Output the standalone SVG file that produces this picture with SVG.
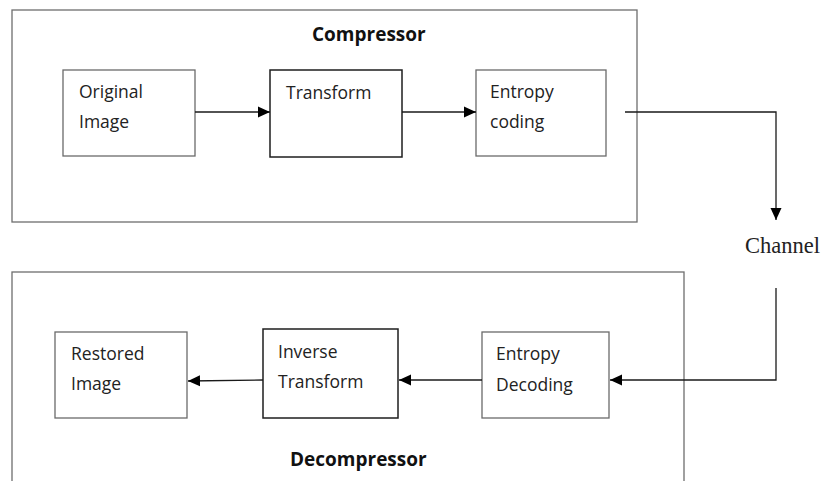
<svg xmlns="http://www.w3.org/2000/svg" width="822" height="481" viewBox="0 0 822 481">
  <style>
    .frame { fill: none; stroke: #6e6e6e; stroke-width: 1.3; }
    .box { fill: #ffffff; stroke: #6a6a6a; stroke-width: 1.3; }
    .box.strong { stroke: #1e1e1e; stroke-width: 1.5; }
    .label { font-family: "Open Sans", "Liberation Sans", sans-serif; font-size: 17.5px; fill: #222222; }
    .title { font-family: "Open Sans", "Liberation Sans", sans-serif; font-size: 19px; font-weight: bold; fill: #111111; }
    .serif { font-family: "Liberation Serif", "Times New Roman", serif; font-size: 22.5px; fill: #222222; }
    .wire { fill: none; stroke: #1a1a1a; stroke-width: 1.3; }
  </style>
  <defs>
    <marker id="arrow" viewBox="0 0 12 12" refX="12" refY="6" markerWidth="12" markerHeight="12" markerUnits="userSpaceOnUse" orient="auto">
      <path d="M0,0.5 L12,6 L0,11.5 Z" fill="#000000"/>
    </marker>
  </defs>

  <rect width="822" height="481" fill="#ffffff"/>

  <!-- compressor stage -->
  <g id="compressor">
    <rect class="frame" x="12" y="10" width="625" height="212"/>
    <text class="title" x="312" y="41">Compressor</text>
  </g>
  <g id="original-image">
    <rect class="box" x="63" y="70" width="132" height="86"/>
    <text class="label" x="79" y="98">Original</text>
    <text class="label" x="79" y="128">Image</text>
  </g>
  <g id="transform">
    <rect class="box strong" x="270" y="70" width="132" height="87"/>
    <text class="label" x="286" y="99">Transform</text>
  </g>
  <g id="entropy-coding">
    <rect class="box" x="476" y="70" width="130" height="86"/>
    <text class="label" x="490" y="98">Entropy</text>
    <text class="label" x="490" y="128">coding</text>
  </g>

  <!-- channel -->
  <g id="channel">
    <text class="serif" x="745" y="253">Channel</text>
  </g>

  <!-- decompressor stage -->
  <g id="decompressor">
    <rect class="frame" x="12" y="272" width="672" height="230"/>
    <text class="title" x="290" y="466">Decompressor</text>
  </g>
  <g id="restored-image">
    <rect class="box" x="55" y="332" width="132" height="86"/>
    <text class="label" x="71" y="360">Restored</text>
    <text class="label" x="71" y="390">Image</text>
  </g>
  <g id="inverse-transform">
    <rect class="box strong" x="263" y="329" width="135" height="89"/>
    <text class="label" x="278" y="358">Inverse</text>
    <text class="label" x="278" y="388">Transform</text>
  </g>
  <g id="entropy-decoding">
    <rect class="box" x="482" y="332" width="127" height="86"/>
    <text class="label" x="496" y="360">Entropy</text>
    <text class="label" x="496" y="391">Decoding</text>
  </g>

  <!-- connectors -->
  <g id="connectors">
    <line class="wire" x1="195" y1="112" x2="270" y2="112" marker-end="url(#arrow)"/>
    <line class="wire" x1="402" y1="112" x2="476" y2="112" marker-end="url(#arrow)"/>
    <polyline class="wire" points="625,112 776,112 776,220" marker-end="url(#arrow)"/>
    <polyline class="wire" points="776,288 776,380 610,380" marker-end="url(#arrow)"/>
    <line class="wire" x1="482" y1="380" x2="399" y2="380" marker-end="url(#arrow)"/>
    <line class="wire" x1="263" y1="380" x2="188" y2="381" marker-end="url(#arrow)"/>
  </g>
</svg>
